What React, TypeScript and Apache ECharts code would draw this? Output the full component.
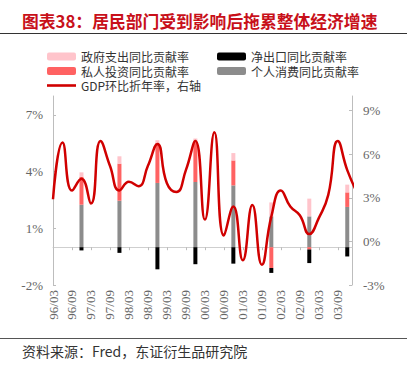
import React, { useEffect, useRef } from 'react';
import * as echarts from 'echarts';

// Quarter labels, 1996Q1 .. 2003Q4 (x-axis categories)
const quarters = [
  '96/03', '96/06', '96/09', '96/12',
  '97/03', '97/06', '97/09', '97/12',
  '98/03', '98/06', '98/09', '98/12',
  '99/03', '99/06', '99/09', '99/12',
  '00/03', '00/06', '00/09', '00/12',
  '01/03', '01/06', '01/09', '01/12',
  '02/03', '02/06', '02/09', '02/12',
  '03/03', '03/06', '03/09', '03/12',
];
// The GDP line runs one quarter past the last label and is clipped at the right axis
const lineQuarters = [...quarters, '04/03'];

// GDP quarter-on-quarter annualized rate (%), right axis
const gdpRate = [
  2.9, 6.8, 3.5, 4.3,
  2.6, 6.9, 5.2, 3.5,
  4.1, 3.8, 5.2, 6.7,
  4.0, 3.4, 4.9, 6.9,
  1.5, 7.5, 0.4, 2.4,
  -1.3, 2.5, -1.6, 1.7,
  3.5, 2.4, 1.8, 0.5,
  1.6, 3.2, 6.9, 4.9,
  3.4,
];

// Annual contributions (%), left axis, placed at each year's Q4
const barYears = ['96/12', '97/12', '98/12', '99/12', '00/12', '01/12', '02/12', '03/12'];
const consumption = [2.25, 2.46, 3.4, 3.45, 3.27, 1.63, 1.63, 2.13];
const investment = [1.47, 1.96, 2.03, 2.1, 1.32, -1.1, -0.12, 0.77];
const government = [0.24, 0.39, 0.23, 0.2, 0.39, 0.74, 0.94, 0.41];
const netExports = [-0.17, -0.3, -1.17, -0.9, -0.87, -0.26, -0.72, -0.49];

const leftTicks = { min: -2, max: 8, interval: 3 };
const rightTicks = { min: -3, max: 10, interval: 3 };

const NAMES = {
  gov: '政府支出同比贡献率',
  inv: '私人投资同比贡献率',
  gdp: 'GDP环比折年率，右轴',
  nx: '净出口同比贡献率',
  pce: '个人消费同比贡献率',
};

const COLORS = {
  gov: '#FFC4CB',
  inv: '#FF6262',
  nx: '#000000',
  pce: '#8C8C8C',
  gdp: '#D00000',
};

const SERIF = "'Liberation Serif', 'Times New Roman', serif";
const CJK = "'Noto Sans CJK SC', sans-serif";

export default function App() {
  const ref = useRef<HTMLDivElement>(null);

  useEffect(() => {
    if (!ref.current) return;
    const chart = echarts.init(ref.current, null, { renderer: 'svg' });

    // Half-quarter slots so the axis runs 31.5 quarters (last bar sits inside the right axis)
    const slots: string[] = quarters.flatMap((q) => [q, '']);
    const slotOf = (q: string) => quarters.indexOf(q) * 2;
    const barSlotData = (arr: number[]) => {
      const out: (number | null)[] = slots.map(() => null);
      barYears.forEach((q, i) => {
        out[slotOf(q)] = arr[i];
      });
      return out;
    };
    const xSpan = (slots.length - 1) / 2; // in quarters

    const legendText = { fontFamily: CJK, fontSize: 12, color: '#333', lineHeight: 13 };
    const legendBase = {
      orient: 'vertical',
      top: 50,
      padding: 0,
      itemWidth: 29,
      itemHeight: 8,
      itemGap: 1.5,
      textStyle: legendText,
    };

    chart.setOption({
      animation: false,
      backgroundColor: '#fff',
      grid: { left: 53, right: 63, top: 96, bottom: 84, containLabel: false },
      legend: [
        {
          ...legendBase,
          left: 47,
          data: [
            NAMES.gov,
            NAMES.inv,
            { name: NAMES.gdp, icon: 'path://M0,0H29V2.6H0Z' },
          ],
        },
        {
          ...legendBase,
          left: 217,
          data: [NAMES.nx, NAMES.pce],
        },
      ],
      xAxis: [
        {
          type: 'category',
          data: slots,
          boundaryGap: false,
          position: 'bottom',
          axisLine: { show: false, onZero: false },
          axisTick: { show: false },
          splitLine: { show: false },
          axisLabel: {
            interval: 3,
            rotate: 90,
            margin: 5,
            fontFamily: SERIF,
            fontSize: 13,
            color: '#666',
          },
        },
        {
          type: 'category',
          data: slots,
          boundaryGap: false,
          position: 'top',
          axisLine: {
            show: true,
            onZero: true,
            onZeroAxisIndex: 0,
            lineStyle: { color: '#cfcfcf', width: 1 },
          },
          axisTick: { show: true, inside: true, interval: 3, length: 3, lineStyle: { color: '#bdbdbd' } },
          axisLabel: { show: false },
          splitLine: { show: false },
        },
        {
          type: 'value',
          show: false,
          min: 0,
          max: xSpan,
          axisLine: { onZero: false },
        },
      ],
      yAxis: [
        {
          type: 'value',
          ...leftTicks,
          position: 'left',
          axisLine: { show: true, onZero: false, lineStyle: { color: '#bdbdbd', width: 1 } },
          axisTick: { show: true, inside: true, length: 3, lineStyle: { color: '#bdbdbd' } },
          splitLine: { show: false },
          axisLabel: {
            margin: 10,
            showMaxLabel: false,
            fontFamily: SERIF,
            fontSize: 13,
            color: '#666',
            formatter: (v: number) => `${v}%`,
          },
        },
        {
          type: 'value',
          ...rightTicks,
          position: 'right',
          axisLine: { show: true, onZero: false, lineStyle: { color: '#bdbdbd', width: 1 } },
          axisTick: { show: true, inside: true, length: 3, lineStyle: { color: '#bdbdbd' } },
          splitLine: { show: false },
          axisLabel: {
            margin: 11,
            showMaxLabel: false,
            fontFamily: SERIF,
            fontSize: 13,
            color: '#666',
            formatter: (v: number) => `${v}%`,
          },
        },
      ],
      series: [
        {
          name: NAMES.pce,
          type: 'bar',
          stack: 'c',
          barWidth: 4,
          xAxisIndex: 0,
          yAxisIndex: 0,
          itemStyle: { color: COLORS.pce },
          data: barSlotData(consumption),
        },
        {
          name: NAMES.inv,
          type: 'bar',
          stack: 'c',
          barWidth: 4,
          xAxisIndex: 0,
          yAxisIndex: 0,
          itemStyle: { color: COLORS.inv },
          data: barSlotData(investment),
        },
        {
          name: NAMES.gov,
          type: 'bar',
          stack: 'c',
          barWidth: 4,
          xAxisIndex: 0,
          yAxisIndex: 0,
          itemStyle: { color: COLORS.gov },
          data: barSlotData(government),
        },
        {
          name: NAMES.nx,
          type: 'bar',
          stack: 'c',
          barWidth: 4,
          xAxisIndex: 0,
          yAxisIndex: 0,
          itemStyle: { color: COLORS.nx },
          data: barSlotData(netExports),
        },
        {
          name: NAMES.gdp,
          type: 'line',
          xAxisIndex: 2,
          yAxisIndex: 1,
          smooth: 0.5,
          symbol: 'none',
          clip: true,
          lineStyle: { color: COLORS.gdp, width: 2.5 },
          itemStyle: { color: COLORS.gdp },
          data: gdpRate.map((v, i) => [lineQuarters.indexOf(lineQuarters[i]), v]),
          z: 5,
        },
      ],
      graphic: [
        {
          type: 'text',
          left: 22,
          top: 13,
          style: {
            text: '图表38：居民部门受到影响后拖累整体经济增速',
            fontFamily: CJK,
            fontSize: 16.8,
            fontWeight: 'bold',
            fill: '#C8101A',
          },
        },
        {
          type: 'line',
          shape: { x1: 0, y1: 33.5, x2: 407, y2: 33.5 },
          style: { stroke: '#333', lineWidth: 1.2 },
        },
        {
          type: 'line',
          shape: { x1: 0, y1: 338.5, x2: 407, y2: 338.5 },
          style: { stroke: '#555', lineWidth: 1 },
        },
        {
          type: 'text',
          left: 22,
          top: 344,
          style: {
            text: '资料来源：Fred，东证衍生品研究院',
            fontFamily: CJK,
            fontSize: 14,
            fill: '#333',
          },
        },
      ],
    });
    return () => chart.dispose();
  }, []);

  return (
    <div
      ref={ref}
      style={{ position: 'fixed', left: 0, top: 0, width: 415, height: 369, background: '#fff' }}
    />
  );
}
